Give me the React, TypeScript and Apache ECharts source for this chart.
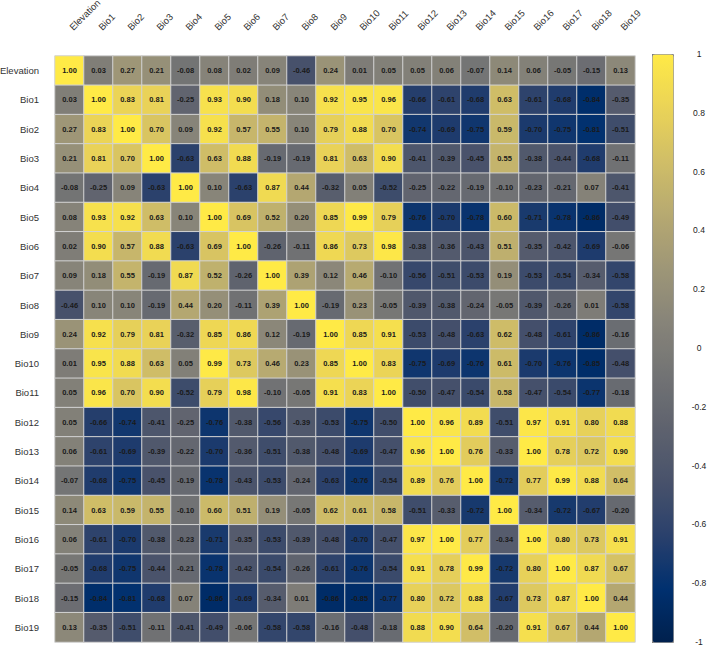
import React, { useEffect, useRef } from "react";
import * as echarts from "echarts";

// Variable names shown on both axes (top and left)
const variables = [
  "Elevation", "Bio1", "Bio2", "Bio3", "Bio4", "Bio5", "Bio6", "Bio7", "Bio8", "Bio9",
  "Bio10", "Bio11", "Bio12", "Bio13", "Bio14", "Bio15", "Bio16", "Bio17", "Bio18", "Bio19",
];

// Upper triangle of the Pearson correlation matrix; row i holds columns i..19
const corrUpper: number[][] = [
  [1.0, 0.03, 0.27, 0.21, -0.08, 0.08, 0.02, 0.09, -0.46, 0.24, 0.01, 0.05, 0.05, 0.06, -0.07, 0.14, 0.06, -0.05, -0.15, 0.13],
  [1.0, 0.83, 0.81, -0.25, 0.93, 0.9, 0.18, 0.1, 0.92, 0.95, 0.96, -0.66, -0.61, -0.68, 0.63, -0.61, -0.68, -0.84, -0.35],
  [1.0, 0.7, 0.09, 0.92, 0.57, 0.55, 0.1, 0.79, 0.88, 0.7, -0.74, -0.69, -0.75, 0.59, -0.7, -0.75, -0.81, -0.51],
  [1.0, -0.63, 0.63, 0.88, -0.19, -0.19, 0.81, 0.63, 0.9, -0.41, -0.39, -0.45, 0.55, -0.38, -0.44, -0.68, -0.11],
  [1.0, 0.1, -0.63, 0.87, 0.44, -0.32, 0.05, -0.52, -0.25, -0.22, -0.19, -0.1, -0.23, -0.21, 0.07, -0.41],
  [1.0, 0.69, 0.52, 0.2, 0.85, 0.99, 0.79, -0.76, -0.7, -0.78, 0.6, -0.71, -0.78, -0.86, -0.49],
  [1.0, -0.26, -0.11, 0.86, 0.73, 0.98, -0.38, -0.36, -0.43, 0.51, -0.35, -0.42, -0.69, -0.06],
  [1.0, 0.39, 0.12, 0.46, -0.1, -0.56, -0.51, -0.53, 0.19, -0.53, -0.54, -0.34, -0.58],
  [1.0, -0.19, 0.23, -0.05, -0.39, -0.38, -0.24, -0.05, -0.39, -0.26, 0.01, -0.58],
  [1.0, 0.85, 0.91, -0.53, -0.48, -0.63, 0.62, -0.48, -0.61, -0.86, -0.16],
  [1.0, 0.83, -0.75, -0.69, -0.76, 0.61, -0.7, -0.76, -0.85, -0.48],
  [1.0, -0.5, -0.47, -0.54, 0.58, -0.47, -0.54, -0.77, -0.18],
  [1.0, 0.96, 0.89, -0.51, 0.97, 0.91, 0.8, 0.88],
  [1.0, 0.76, -0.33, 1.0, 0.78, 0.72, 0.9],
  [1.0, -0.72, 0.77, 0.99, 0.88, 0.64],
  [1.0, -0.34, -0.72, -0.67, -0.2],
  [1.0, 0.8, 0.73, 0.91],
  [1.0, 0.87, 0.67],
  [1.0, 0.44],
  [1.0],
];

// Cividis colour ramp from -1 to 1
const cividis = [
  "#00204D", "#00306F", "#2A406C", "#48526B", "#5E626E", "#727374",
  "#878479", "#9E9677", "#B6A971", "#D0BE67", "#EAD357", "#FFEA46",
];

// Colour-bar tick range
const barMin = -1;
const barMax = 1;
const barStep = 0.2;

const FONT = "'Liberation Sans', Arial, sans-serif";

function buildCells(): [number, number, number][] {
  const n = variables.length;
  const cells: [number, number, number][] = [];
  for (let r = 0; r < n; r++) {
    for (let c = 0; c < n; c++) {
      const v = c >= r ? corrUpper[r][c - r] : corrUpper[c][r - c];
      cells.push([c, r, v]);
    }
  }
  return cells;
}

export default function App() {
  const ref = useRef<HTMLDivElement>(null);

  useEffect(() => {
    if (!ref.current) return;
    const chart = echarts.init(ref.current, undefined, { renderer: "svg" });
    chart.setOption({
      animation: false,
      backgroundColor: "#ffffff",
      textStyle: { fontFamily: FONT },
      grid: [
        { left: 55, top: 56, width: 580, height: 586, containLabel: false, outerBoundsMode: "none" },
        { left: 652, top: 54, width: 21, height: 588, containLabel: false, outerBoundsMode: "none" },
      ],
      xAxis: [
        {
          type: "category",
          data: variables,
          position: "top",
          gridIndex: 0,
          axisLine: { show: false },
          axisTick: { show: false },
          splitArea: { show: false },
          axisLabel: {
            interval: 0,
            rotate: -45,
            margin: 19,
            verticalAlign: "bottom",
            padding: [0, 0, 0, 7],
            fontSize: 9.5,
            color: "#333333",
            fontFamily: FONT,
          },
        },
        { type: "value", gridIndex: 1, show: false, min: 0, max: 1 },
      ],
      yAxis: [
        {
          type: "category",
          data: variables,
          inverse: true,
          gridIndex: 0,
          axisLine: { show: false },
          axisTick: { show: false },
          splitArea: { show: false },
          axisLabel: {
            interval: 0,
            margin: 16,
            fontSize: 9.5,
            color: "#333333",
            fontFamily: FONT,
          },
        },
        {
          type: "value",
          gridIndex: 1,
          position: "right",
          min: barMin,
          max: barMax,
          interval: barStep,
          axisLine: { show: false },
          splitLine: { show: false },
          axisTick: { show: true, length: 4, lineStyle: { color: "#555555" } },
          axisLabel: {
            margin: 26,
            align: "center",
            fontSize: 8.5,
            color: "#222222",
            fontFamily: FONT,
            formatter: (v: number) => String(Math.round(v * 10) / 10),
          },
        },
      ],
      visualMap: {
        type: "continuous",
        min: barMin,
        max: barMax,
        dimension: 2,
        seriesIndex: 0,
        calculable: false,
        hoverLink: false,
        orient: "vertical",
        left: 652,
        top: 54,
        itemWidth: 21,
        itemHeight: 588,
        padding: 0,
        borderColor: "#8a8a8a",
        borderWidth: 1,
        inRange: { color: cividis },
      },
      series: [
        {
          type: "heatmap",
          xAxisIndex: 0,
          yAxisIndex: 0,
          data: buildCells(),
          itemStyle: { borderColor: "#d2d2d2", borderWidth: 1 },
          label: {
            show: true,
            fontSize: 7.5,
            fontWeight: "bold",
            color: "#1a1a1a",
            fontFamily: FONT,
            formatter: (p: any) => (p.value[2] as number).toFixed(2),
          },
          emphasis: { disabled: true },
        },
      ],
    });
    return () => chart.dispose();
  }, []);

  return (
    <div
      ref={ref}
      style={{ position: "fixed", left: 0, top: 0, width: 708, height: 646 }}
    />
  );
}
